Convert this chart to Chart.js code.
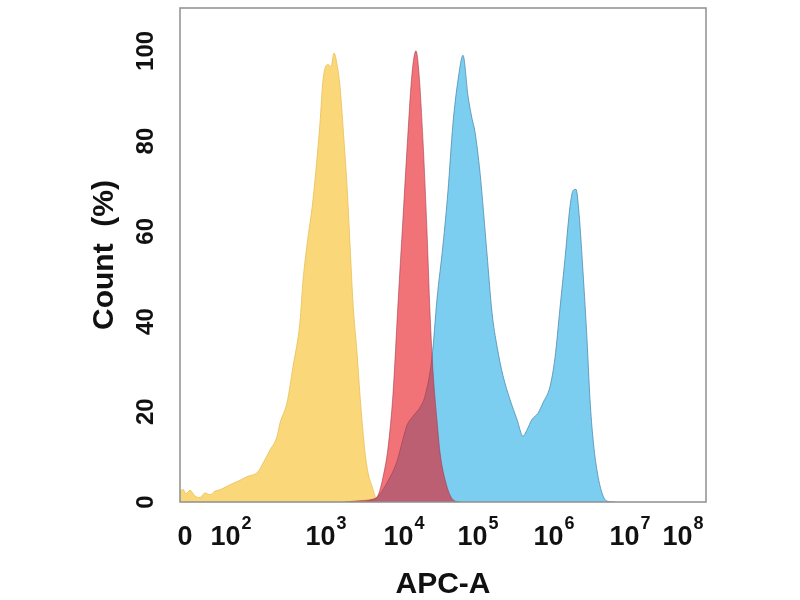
<!DOCTYPE html>
<html>
<head>
<meta charset="utf-8">
<script src="https://cdn.jsdelivr.net/npm/chart.js@4.4.1/dist/chart.umd.min.js"></script>
<style>
  html, body { margin: 0; padding: 0; background: #fff; }
  #chart { display: block; }
</style>
</head>
<body>
<canvas id="chart" width="800" height="600"></canvas>
<script>
// ---------- data ----------
// x = position along the APC-A axis (display channel), y = Count (%)
const controlChannel = [0, 3, 6, 10, 15, 20, 25, 30, 35, 40, 50, 60, 67, 78, 83, 90, 97, 100, 107, 113,
  120, 123, 127, 133, 140, 143, 148, 151, 154, 157, 160, 164, 167, 170, 173, 177, 180, 185, 188, 192, 197, 205];
const controlCount = [2.3, 2.8, 1.8, 2.6, 1.3, 1.0, 2.0, 1.6, 2.4, 2.7, 3.8, 4.8, 5.6, 6.7, 8.6, 11.5, 14.5, 17.5, 22, 30,
  40, 49, 57, 67, 84, 93.5, 97, 96.5, 99.5, 97, 92, 80, 70, 57, 44, 33, 23.5, 11, 6.5, 3.5, 0.5, 0];

const positiveChannel = [185, 197, 210, 217, 223, 227, 233, 240, 245, 252, 257, 263, 268, 273, 278, 283, 288, 292, 295, 300,
  307, 312, 317, 323, 330, 337, 343, 347, 352, 358, 363, 370, 375, 380, 385, 390, 393, 396, 399, 403,
  407, 410, 413, 417, 422, 427, 435];
const positiveCount = [0, 1, 5.5, 9, 14, 17, 19, 21, 23.5, 32, 45, 57, 69, 84, 93.5, 99, 90, 85, 82, 73,
  55, 42, 34.5, 28, 22.7, 18.3, 14.6, 16, 18.3, 19.7, 22, 25.6, 32, 43, 54, 65.5, 69, 69.3, 64, 51,
  36, 22.7, 14, 7, 2, 0.2, 0];

const negativeChannel = [165, 180, 192, 198, 203, 208, 213, 218, 223, 228, 232, 236, 239, 243, 247, 250, 253, 257, 260, 265, 273, 280];
const negativeCount = [0, 0.3, 0.6, 1.5, 5.5, 12, 24, 44, 63, 82, 95, 100, 95, 80, 60, 42, 29, 18, 11, 5, 0.5, 0];

const xTickChannels = [5, 51, 146, 224, 298, 374, 450, 503];
const xTickLabels = ["0", "10^2", "10^3", "10^4", "10^5", "10^6", "10^7", "10^8"];
const yTicks = [0, 20, 40, 60, 80, 100];

const FONT = "'Liberation Sans', Arial, Helvetica, sans-serif";

function toPoints(xs, ys) {
  return xs.map((x, i) => ({ x: x, y: ys[i] }));
}

// ---------- plugins ----------
// grey box round the plot area
const frameBox = {
  id: "frameBox",
  afterDatasetsDraw(chart) {
    const { ctx, chartArea: a } = chart;
    ctx.save();
    ctx.strokeStyle = "#8f8f8f";
    ctx.lineWidth = 1.5;
    ctx.strokeRect(a.left, a.top, a.right - a.left, a.bottom - a.top);
    ctx.restore();
  }
};

// x tick labels with raised exponents (10², 10³ ...)
const powerTicks = {
  id: "powerTicks",
  afterDraw(chart) {
    const { ctx } = chart;
    const scale = chart.scales.x;
    const baseFont = "bold 27px " + FONT;
    const supFont = "bold 18px " + FONT;
    const baseY = scale.top + 43;
    const supY = scale.top + 27;
    ctx.save();
    ctx.fillStyle = "#111";
    ctx.textAlign = "left";
    ctx.textBaseline = "alphabetic";
    scale.ticks.forEach((t, i) => {
      const parts = xTickLabels[i].split("^");
      ctx.font = baseFont;
      const bw = ctx.measureText(parts[0]).width;
      let ew = 0;
      if (parts[1]) {
        ctx.font = supFont;
        ew = ctx.measureText(parts[1]).width + 1;
      }
      const left = scale.getPixelForValue(t.value) - (bw + ew) / 2;
      ctx.font = baseFont;
      ctx.fillText(parts[0], left, baseY);
      if (parts[1]) {
        ctx.font = supFont;
        ctx.fillText(parts[1], left + bw + 1, supY);
      }
    });
    ctx.restore();
  }
};

// ---------- chart ----------
const ctx = document.getElementById("chart").getContext("2d");
new Chart(ctx, {
  type: "line",
  data: {
    datasets: [
      {
        label: "Negative",
        data: toPoints(negativeChannel, negativeCount),
        backgroundColor: "rgba(231, 22, 30, 0.6)",
        borderColor: "rgba(160, 50, 70, 0.55)",
        borderWidth: 1,
        fill: "origin"
      },
      {
        label: "Positive",
        data: toPoints(positiveChannel, positiveCount),
        backgroundColor: "rgb(124, 206, 241)",
        borderColor: "rgba(80, 140, 175, 0.8)",
        borderWidth: 1,
        fill: "origin"
      },
      {
        label: "Control",
        data: toPoints(controlChannel, controlCount),
        backgroundColor: "rgb(250, 216, 122)",
        borderColor: "rgba(235, 195, 95, 0.9)",
        borderWidth: 1,
        fill: "origin"
      }
    ]
  },
  options: {
    responsive: false,
    animation: false,
    cubicInterpolationMode: "monotone",
    elements: { point: { radius: 0 } },
    layout: { padding: { top: 8, right: 94, bottom: 0, left: 0 } },
    plugins: {
      legend: { display: false },
      tooltip: { enabled: false }
    },
    scales: {
      x: {
        type: "linear",
        min: 0,
        max: 526,
        afterBuildTicks: (scale) => {
          scale.ticks = xTickChannels.map((v) => ({ value: v }));
        },
        afterFit: (scale) => {
          scale.height = 98;
          scale.paddingLeft = 0;
          scale.paddingRight = 0;
        },
        grid: { display: false, drawTicks: false },
        border: { display: false },
        ticks: { display: false },
        title: {
          display: true,
          text: "APC-A",
          color: "#111",
          font: { family: FONT, size: 30, weight: "bold", lineHeight: 1 },
          padding: { top: 0, bottom: 0 }
        }
      },
      y: {
        type: "linear",
        min: 0,
        max: 109.5,
        afterBuildTicks: (scale) => {
          scale.ticks = yTicks.map((v) => ({ value: v }));
        },
        afterFit: (scale) => {
          scale.width = 180;
          scale.paddingTop = 0;
          scale.paddingBottom = 0;
        },
        grid: { display: false, drawTicks: false },
        border: { display: false },
        ticks: {
          color: "#111",
          font: { family: FONT, size: 24, weight: "bold" },
          minRotation: 90,
          maxRotation: 90,
          crossAlign: "center",
          padding: 14
        },
        title: {
          display: true,
          text: "Count  (%)",
          color: "#111",
          font: { family: FONT, size: 30, weight: "bold", lineHeight: 1 },
          padding: { top: 90, bottom: 0 }
        }
      }
    }
  },
  plugins: [frameBox, powerTicks]
});
</script>
</body>
</html>
